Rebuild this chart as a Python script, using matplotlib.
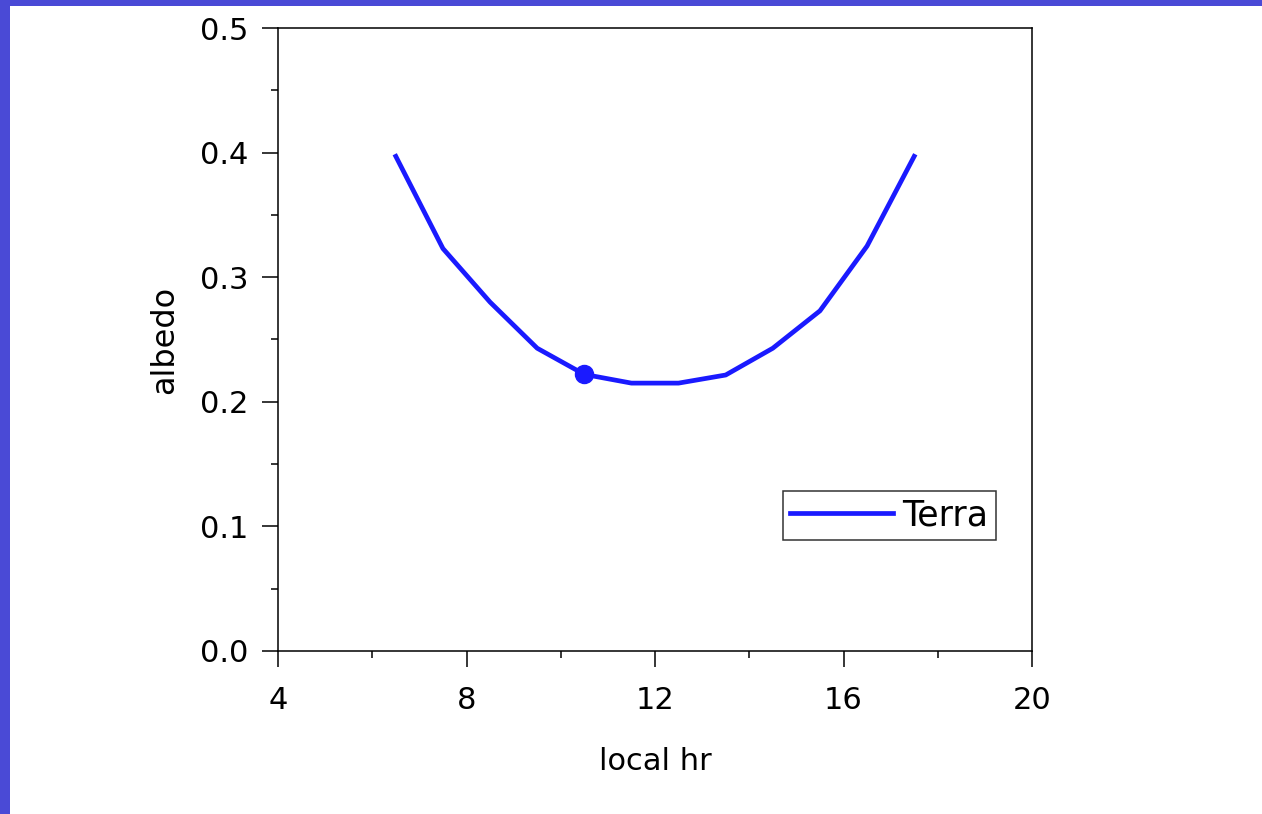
import matplotlib
matplotlib.use("Agg")
import matplotlib.pyplot as plt
from matplotlib.patches import Rectangle
from matplotlib.ticker import MultipleLocator, FormatStrFormatter

# Data
hours = [6.5, 7.5, 8.5, 9.5, 10.5, 11.5, 12.5, 13.5, 14.5, 15.5, 16.5, 17.5]
albedo = [0.397, 0.323, 0.280, 0.243, 0.222, 0.215, 0.215, 0.2215, 0.243, 0.273, 0.325, 0.397]
marker_hour = [10.5]
marker_albedo = [0.222]
series_name = "Terra"
x_ticks = [4, 8, 12, 16, 20]
y_ticks = [0.0, 0.1, 0.2, 0.3, 0.4, 0.5]

plt.rcParams['font.family'] = ['DejaVu Sans']

fig = plt.figure(figsize=(12.62, 8.14), dpi=100)
fig.patch.set_facecolor('white')

# slide border (blue left and top)
border = '#4a4ad6'
fig.patches.append(Rectangle((0, 0), 10/1262, 1, transform=fig.transFigure,
                             facecolor=border, edgecolor='none', zorder=-1))
fig.patches.append(Rectangle((0, 1 - 6/814), 1, 6/814, transform=fig.transFigure,
                             facecolor=border, edgecolor='none', zorder=-1))

ax = fig.add_axes([278/1262, (814-651)/814, (1032-278)/1262, (651-28)/814])

line_color = '#1a1aff'
ax.plot(hours, albedo, color=line_color, lw=3.4, label=series_name)
ax.plot(marker_hour, marker_albedo, 'o', color=line_color, ms=13)

ax.set_xlim(4, 20)
ax.set_ylim(0, 0.5)
ax.set_xticks(x_ticks)
ax.set_yticks(y_ticks)
ax.yaxis.set_major_formatter(FormatStrFormatter('%.1f'))
ax.xaxis.set_minor_locator(MultipleLocator(2))
ax.yaxis.set_minor_locator(MultipleLocator(0.05))

ax.tick_params(axis='both', which='major', direction='out', length=11.5, width=1.1,
               labelsize=22, top=False, right=False)
ax.tick_params(axis='both', which='minor', direction='out', length=5, width=1.1,
               top=False, right=False)
ax.tick_params(axis='x', which='major', pad=14)
ax.tick_params(axis='y', which='major', pad=10)
for s in ax.spines.values():
    s.set_linewidth(1.1)
    s.set_color('black')

ax.set_xlabel('local hr', fontsize=22, labelpad=23)
ax.set_ylabel('albedo', fontsize=23, labelpad=14)

leg = ax.legend(loc='lower right', bbox_to_anchor=(0.952, 0.178), fontsize=25,
                frameon=True, fancybox=False, handlelength=2.95, handletextpad=0.27,
                borderpad=0.22, borderaxespad=0)
leg.get_frame().set_edgecolor('black')
leg.get_frame().set_linewidth(1.1)

fig.savefig('out.png', dpi=100)
